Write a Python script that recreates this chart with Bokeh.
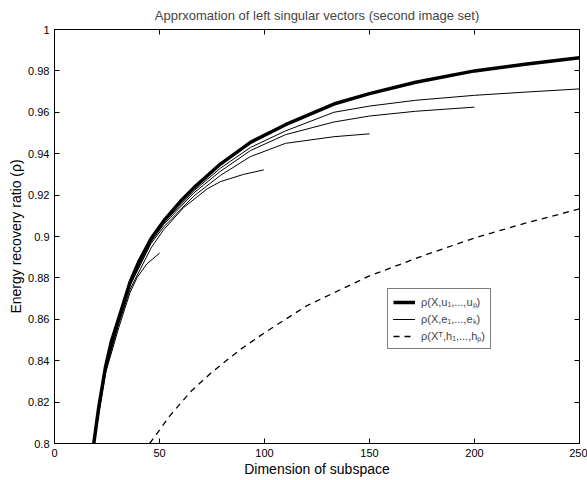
from bokeh.plotting import figure
from bokeh.models import (LinearAxis, FixedTicker, CustomJSTickFormatter, Legend,
                          LegendItem, Range1d)
from bokeh.embed import file_html
from bokeh.resources import INLINE

# ---- data ----
u_x = [18.7, 21, 24.3, 27, 30.6, 36, 40, 46, 52, 60, 66.3, 79, 93.3, 110, 133, 150, 172, 200, 225, 250]
u_y = [0.800, 0.817, 0.837, 0.849, 0.8605, 0.878, 0.8875, 0.899, 0.9075, 0.917, 0.9235, 0.935, 0.9455,
       0.954, 0.964, 0.969, 0.9745, 0.980, 0.9833, 0.9863]

e250_x = [18.7, 24.3, 30.6, 36, 46, 52, 66.3, 79, 93.3, 110, 133, 150, 172, 200, 225, 250]
e250_y = [0.800, 0.8365, 0.8600, 0.8775, 0.8982, 0.9066, 0.9220, 0.9330, 0.9430, 0.9510, 0.9600,
          0.9630, 0.9658, 0.9682, 0.9698, 0.9713]

e200_x = [18.7, 24.3, 30.6, 36, 46, 52, 66.3, 79, 93.3, 110, 133, 150, 172, 200]
e200_y = [0.800, 0.8363, 0.8595, 0.8770, 0.8975, 0.9058, 0.9210, 0.9315, 0.9415, 0.9492, 0.9553,
          0.9582, 0.9605, 0.9625]

e150_x = [18.7, 24.3, 30.6, 36, 46, 52, 66.3, 79, 93.3, 110, 133, 150]
e150_y = [0.800, 0.8360, 0.8590, 0.8763, 0.8967, 0.9046, 0.9195, 0.9295, 0.9386, 0.9450, 0.9482, 0.9496]

e100_x = [18.7, 24.3, 30.6, 36, 46, 52, 61.5, 72.7, 79, 90, 99.7]
e100_y = [0.800, 0.8350, 0.8577, 0.8745, 0.8945, 0.9033, 0.9140, 0.9230, 0.9265, 0.9300, 0.9322]

e50_x = [18.7, 24.3, 30.6, 36, 39.4, 44, 50.1]
e50_y = [0.800, 0.8340, 0.8560, 0.8730, 0.8803, 0.8868, 0.8920]

h_x = [45.3, 50, 55, 65, 75, 88.6, 100, 120, 150, 175, 200, 225, 250]
h_y = [0.800, 0.8065, 0.8135, 0.8252, 0.8345, 0.8455, 0.8535, 0.8665, 0.8810, 0.8905, 0.8993,
       0.9067, 0.9133]

x_ticks = [0, 50, 100, 150, 200, 250]
y_ticks = [0.8, 0.82, 0.84, 0.86, 0.88, 0.9, 0.92, 0.94, 0.96, 0.98, 1.0]

title_text = "Apprxomation of left singular vectors (second image set)"
x_label = "Dimension of subspace"
y_label = "Energy recovery ratio (\u03c1)"
legend_labels = ["\u03c1(X,u\u2081,...,u\u209a)", "\u03c1(X,e\u2081,...,e\u2096)",
                 "\u03c1(X\u1d40,h\u2081,...,h\u209a)"]

FONT = "Liberation Sans"

p = figure(frame_width=525, frame_height=414, output_backend="svg", toolbar_location=None,
           x_range=Range1d(0, 250), y_range=Range1d(0.8, 1.0),
           min_border_left=54, min_border_right=8, min_border_top=29, min_border_bottom=37,
           title=title_text)
p.title.text_font = FONT
p.title.text_font_size = "13px"
p.title.text_font_style = "normal"
p.title.align = "center"
p.title.vertical_align = "top"
p.title.standoff = 9
p.title.offset = 0

p.grid.visible = False
p.outline_line_color = "black"
p.outline_line_width = 1
p.background_fill_color = "white"
p.border_fill_color = "white"

fmt = CustomJSTickFormatter(code="return String(Math.round(tick*100)/100);")

for ax in p.xaxis:
    ax.ticker = FixedTicker(ticks=x_ticks)
    ax.axis_label = x_label
for ax in p.yaxis:
    ax.ticker = FixedTicker(ticks=y_ticks)
    ax.formatter = fmt
    ax.axis_label = y_label

top_ax = LinearAxis(ticker=FixedTicker(ticks=x_ticks))
right_ax = LinearAxis(ticker=FixedTicker(ticks=y_ticks))
p.add_layout(top_ax, "above")
p.add_layout(right_ax, "right")

for ax in p.axis:
    ax.major_tick_in = 5
    ax.major_tick_out = 0
    ax.minor_tick_in = 0
    ax.minor_tick_out = 0
    ax.axis_line_color = "black"
    ax.major_tick_line_color = "black"
    ax.major_label_text_font = FONT
    ax.major_label_text_color = "black"
    ax.major_label_text_font_size = "11px"
    ax.axis_label_text_font = FONT
    ax.axis_label_text_font_style = "normal"
    ax.axis_label_text_font_size = "14px"
    ax.axis_label_text_color = "black"
    ax.major_label_standoff = 5
    ax.axis_label_standoff = 1

for ax in (top_ax, right_ax):
    ax.major_label_text_color = None
    ax.major_label_text_font_size = "1px"
    ax.major_label_standoff = 0

r_u = p.line(u_x, u_y, line_color="black", line_width=3.5)
r_e = []
for xs, ys in [(e50_x, e50_y), (e100_x, e100_y), (e150_x, e150_y), (e200_x, e200_y), (e250_x, e250_y)]:
    r_e.append(p.line(xs, ys, line_color="black", line_width=1))
r_h = p.line(h_x, h_y, line_color="black", line_width=1.3, line_dash="6 5")

legend = Legend(items=[LegendItem(label=legend_labels[0], renderers=[r_u]),
                       LegendItem(label=legend_labels[1], renderers=r_e),
                       LegendItem(label=legend_labels[2], renderers=[r_h])],
                location=(333, 94))
legend.label_text_font = FONT
legend.label_text_font_size = "11px"
legend.label_height = 14
legend.glyph_height = 14
legend.glyph_width = 22
legend.spacing = 2
legend.padding = 5
legend.margin = 0
legend.label_standoff = 6
legend.border_line_color = "black"
legend.border_line_width = 1
legend.background_fill_alpha = 1
p.add_layout(legend, "center")

open("out.html", "w").write(file_html(p, INLINE))
